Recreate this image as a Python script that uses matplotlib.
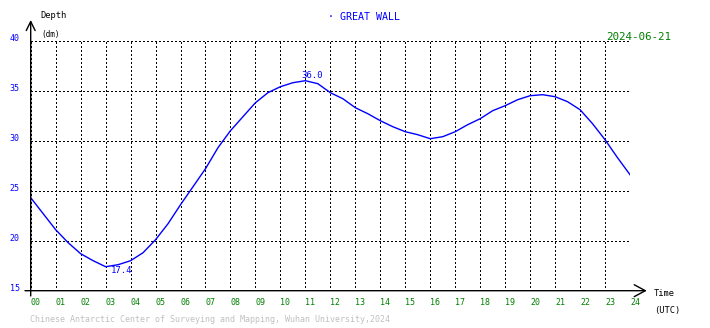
import numpy as np
import matplotlib
matplotlib.use("Agg")
import matplotlib.pyplot as plt

plt.rcParams['font.family'] = ['DejaVu Sans Mono']

# tide curve, every half hour (UTC)
hours = [0, 0.5, 1, 1.5, 2, 2.5, 3, 3.5, 4, 4.5, 5, 5.5, 6, 6.5, 7, 7.5,
         8, 8.5, 9, 9.5, 10, 10.5, 11, 11.5, 12, 12.5, 13, 13.5, 14, 14.5,
         15, 15.5, 16, 16.5, 17, 17.5, 18, 18.5, 19, 19.5, 20, 20.5, 21,
         21.5, 22, 22.5, 23, 23.5, 24]
depth = [24.3, 22.7, 21.1, 19.8, 18.7, 18.0, 17.4, 17.6, 18.0, 18.8, 20.1,
         21.7, 23.6, 25.4, 27.2, 29.3, 31.0, 32.4, 33.8, 34.8, 35.4, 35.8,
         36.0, 35.7, 34.8, 34.2, 33.3, 32.7, 32.0, 31.4, 30.9, 30.6, 30.2,
         30.4, 30.9, 31.6, 32.2, 33.0, 33.5, 34.1, 34.5, 34.6, 34.4, 33.9,
         33.1, 31.7, 30.1, 28.3, 26.6]

x_ticks = list(range(0, 25))
x_labels = ["%02d" % h for h in x_ticks]
y_ticks = [15, 20, 25, 30, 35, 40]

station = "GREAT WALL"
date = "2024-06-21"
footer = "Chinese Antarctic Center of Surveying and Mapping, Wuhan University,2024"

BLUE = "#0000ff"
GREEN = "#008000"

W, H = 710, 328
fig = plt.figure(figsize=(W / 100, H / 100), dpi=100, facecolor="white")
ax = fig.add_axes([30.7 / W, (H - 290.7) / H, 599.3 / W, 250 / H])

ax.plot(hours, depth, color=BLUE, lw=1)
ax.set_xlim(0, 24)
ax.set_ylim(15, 40)

ax.set_xticks(x_ticks)
ax.set_xticklabels(x_labels, color=GREEN, fontsize=6, ha="left")
ax.set_yticks(y_ticks)
ax.set_yticklabels([str(v) for v in y_ticks], color=BLUE, fontsize=6)
for lab in ax.get_yticklabels():
    lab.set_va("baseline")
ax.tick_params(axis="x", length=0, pad=5)
ax.tick_params(axis="y", length=0, pad=8)
ax.grid(True, color="black", linestyle=(0, (1, 2)), linewidth=0.75,
        antialiased=False)
for s in ax.spines.values():
    s.set_visible(False)

# axes with open arrow heads
ax.annotate("", xy=(0, 1.083), xytext=(0, -0.021), xycoords="axes fraction",
            arrowprops=dict(arrowstyle="->,head_length=0.65,head_width=0.32",
                            lw=1, color="black", shrinkA=0, shrinkB=0))
ax.annotate("", xy=(1.028, 0), xytext=(-0.0095, 0), xycoords="axes fraction",
            arrowprops=dict(arrowstyle="->,head_length=0.8,head_width=0.43",
                            lw=1, color="black", shrinkA=0, shrinkB=0))

# high / low labels
i_max = int(np.argmax(depth))
i_min = int(np.argmin(depth))
ax.annotate("%.1f" % depth[i_max], xy=(hours[i_max], depth[i_max]),
            xytext=(4.5, 4), textcoords="offset points", ha="center",
            va="center", color=BLUE, fontsize=6.5)
ax.annotate("%.1f" % depth[i_min], xy=(hours[i_min], depth[i_min]),
            xytext=(11.4, -2.4), textcoords="offset points", ha="center",
            va="center", color=BLUE, fontsize=6.5)


def fx(px):
    return px / W


def fy(py):
    return 1 - py / H


fig.text(fx(40), fy(16), "Depth", fontsize=6.3, va="center")
fig.text(fx(41), fy(34), "(dm)", fontsize=5.5, va="center")
fig.text(fx(328), fy(17), "\u00b7 " + station, fontsize=7.2, color=BLUE, va="center")
fig.text(fx(671), fy(37), date, fontsize=7.8, color=GREEN, ha="right", va="center")
fig.text(fx(654), fy(294), "Time", fontsize=6.3, va="center")
fig.text(fx(654), fy(310), "(UTC)", fontsize=6.3, va="center")
fig.text(fx(30), fy(320), footer, fontsize=6, color="#c0c0c0", va="center")

fig.savefig("out.png", dpi=100)
